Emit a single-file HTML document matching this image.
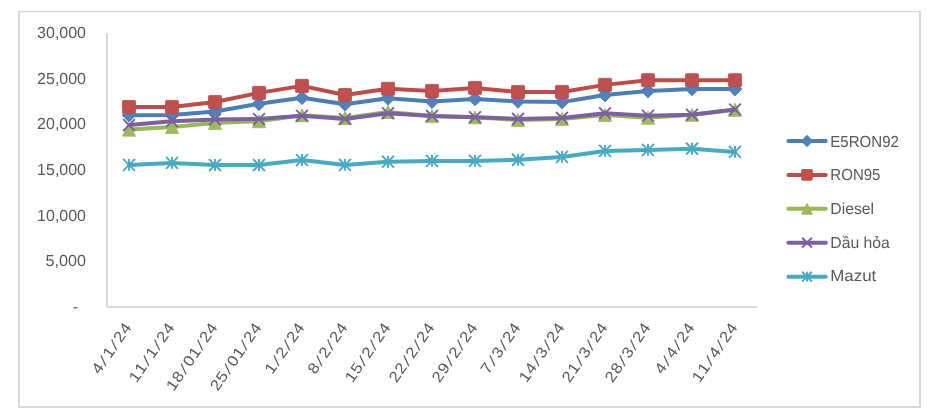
<!DOCTYPE html>
<html lang="vi"><head><meta charset="utf-8"><title>Chart</title>
<style>
html,body{margin:0;padding:0;background:#fff;}
body{width:934px;height:420px;overflow:hidden;}
svg{display:block;}
text{font-family:"Liberation Sans", sans-serif;fill:#595959;text-rendering:geometricPrecision;}
</style></head><body>
<svg width="934" height="420" viewBox="0 0 934 420">
<rect x="0" y="0" width="934" height="420" fill="#fff"/>
<g fill="#d9d9d9">
<rect x="18" y="11" width="903" height="1.2"/>
<rect x="18" y="406" width="903" height="2"/>
<rect x="18" y="11" width="2" height="397"/>
<rect x="919" y="11" width="2" height="397"/>
<rect x="106" y="33.0" width="2" height="273.8"/>
<rect x="107" y="306.0" width="650.0" height="2"/>
</g>

<text x="78" y="312.20" font-size="16" text-anchor="end">-</text>
<text x="86.0" y="266.43" font-size="16" text-anchor="end" textLength="40.4" lengthAdjust="spacingAndGlyphs">5,000</text>
<text x="86.0" y="220.77" font-size="16" text-anchor="end" textLength="48.9" lengthAdjust="spacingAndGlyphs">10,000</text>
<text x="86.0" y="175.10" font-size="16" text-anchor="end" textLength="48.9" lengthAdjust="spacingAndGlyphs">15,000</text>
<text x="86.0" y="129.43" font-size="16" text-anchor="end" textLength="48.9" lengthAdjust="spacingAndGlyphs">20,000</text>
<text x="86.0" y="83.77" font-size="16" text-anchor="end" textLength="48.9" lengthAdjust="spacingAndGlyphs">25,000</text>
<text x="86.0" y="38.10" font-size="16" text-anchor="end" textLength="48.9" lengthAdjust="spacingAndGlyphs">30,000</text>
<text transform="translate(132.20 327.20) rotate(-55.5) scale(1.12 1)" font-size="15.2" x="-51.86 -42.47 -34.81 -25.42 -17.75 -8.73" rotate="0 13 0 13 0 0">4/1/24</text>
<text transform="translate(175.20 327.20) rotate(-55.5) scale(1.12 1)" font-size="15.2" x="-60.88 -51.86 -42.47 -34.81 -25.42 -17.75 -8.73" rotate="0 0 13 0 13 0 0">11/1/24</text>
<text transform="translate(218.20 327.20) rotate(-55.5) scale(1.12 1)" font-size="15.2" x="-69.90 -60.88 -51.49 -43.82 -34.81 -25.42 -17.75 -8.73" rotate="0 0 13 0 0 13 0 0">18/01/24</text>
<text transform="translate(262.20 327.20) rotate(-55.5) scale(1.12 1)" font-size="15.2" x="-69.90 -60.88 -51.49 -43.82 -34.81 -25.42 -17.75 -8.73" rotate="0 0 13 0 0 13 0 0">25/01/24</text>
<text transform="translate(305.20 327.20) rotate(-55.5) scale(1.12 1)" font-size="15.2" x="-51.86 -42.47 -34.81 -25.42 -17.75 -8.73" rotate="0 13 0 13 0 0">1/2/24</text>
<text transform="translate(348.20 327.20) rotate(-55.5) scale(1.12 1)" font-size="15.2" x="-51.86 -42.47 -34.81 -25.42 -17.75 -8.73" rotate="0 13 0 13 0 0">8/2/24</text>
<text transform="translate(391.20 327.20) rotate(-55.5) scale(1.12 1)" font-size="15.2" x="-60.88 -51.86 -42.47 -34.81 -25.42 -17.75 -8.73" rotate="0 0 13 0 13 0 0">15/2/24</text>
<text transform="translate(435.20 327.20) rotate(-55.5) scale(1.12 1)" font-size="15.2" x="-60.88 -51.86 -42.47 -34.81 -25.42 -17.75 -8.73" rotate="0 0 13 0 13 0 0">22/2/24</text>
<text transform="translate(478.20 327.20) rotate(-55.5) scale(1.12 1)" font-size="15.2" x="-60.88 -51.86 -42.47 -34.81 -25.42 -17.75 -8.73" rotate="0 0 13 0 13 0 0">29/2/24</text>
<text transform="translate(521.20 327.20) rotate(-55.5) scale(1.12 1)" font-size="15.2" x="-51.86 -42.47 -34.81 -25.42 -17.75 -8.73" rotate="0 13 0 13 0 0">7/3/24</text>
<text transform="translate(565.20 327.20) rotate(-55.5) scale(1.12 1)" font-size="15.2" x="-60.88 -51.86 -42.47 -34.81 -25.42 -17.75 -8.73" rotate="0 0 13 0 13 0 0">14/3/24</text>
<text transform="translate(608.20 327.20) rotate(-55.5) scale(1.12 1)" font-size="15.2" x="-60.88 -51.86 -42.47 -34.81 -25.42 -17.75 -8.73" rotate="0 0 13 0 13 0 0">21/3/24</text>
<text transform="translate(651.20 327.20) rotate(-55.5) scale(1.12 1)" font-size="15.2" x="-60.88 -51.86 -42.47 -34.81 -25.42 -17.75 -8.73" rotate="0 0 13 0 13 0 0">28/3/24</text>
<text transform="translate(695.20 327.20) rotate(-55.5) scale(1.12 1)" font-size="15.2" x="-51.86 -42.47 -34.81 -25.42 -17.75 -8.73" rotate="0 13 0 13 0 0">4/4/24</text>
<text transform="translate(738.20 327.20) rotate(-55.5) scale(1.12 1)" font-size="15.2" x="-60.88 -51.86 -42.47 -34.81 -25.42 -17.75 -8.73" rotate="0 0 13 0 13 0 0">11/4/24</text>
<polyline points="129.00,115.20 172.00,114.90 215.00,111.50 259.00,103.80 302.00,97.70 345.00,104.20 388.00,98.30 432.00,101.60 475.00,98.90 518.00,101.40 562.00,102.10 605.00,95.00 648.00,91.00 692.00,88.90 735.00,89.10" fill="none" stroke="#4a7ebb" stroke-width="4" stroke-linejoin="round" stroke-linecap="round"/>
<path d="M129.00 108.26L135.94 115.20L129.00 122.14L122.06 115.20Z" fill="#4f81bd" stroke="#4a7ebb" stroke-width="0.8"/>
<path d="M172.00 107.96L178.94 114.90L172.00 121.84L165.06 114.90Z" fill="#4f81bd" stroke="#4a7ebb" stroke-width="0.8"/>
<path d="M215.00 104.56L221.94 111.50L215.00 118.44L208.06 111.50Z" fill="#4f81bd" stroke="#4a7ebb" stroke-width="0.8"/>
<path d="M259.00 96.86L265.94 103.80L259.00 110.74L252.06 103.80Z" fill="#4f81bd" stroke="#4a7ebb" stroke-width="0.8"/>
<path d="M302.00 90.76L308.94 97.70L302.00 104.64L295.06 97.70Z" fill="#4f81bd" stroke="#4a7ebb" stroke-width="0.8"/>
<path d="M345.00 97.26L351.94 104.20L345.00 111.14L338.06 104.20Z" fill="#4f81bd" stroke="#4a7ebb" stroke-width="0.8"/>
<path d="M388.00 91.36L394.94 98.30L388.00 105.24L381.06 98.30Z" fill="#4f81bd" stroke="#4a7ebb" stroke-width="0.8"/>
<path d="M432.00 94.66L438.94 101.60L432.00 108.54L425.06 101.60Z" fill="#4f81bd" stroke="#4a7ebb" stroke-width="0.8"/>
<path d="M475.00 91.96L481.94 98.90L475.00 105.84L468.06 98.90Z" fill="#4f81bd" stroke="#4a7ebb" stroke-width="0.8"/>
<path d="M518.00 94.46L524.94 101.40L518.00 108.34L511.06 101.40Z" fill="#4f81bd" stroke="#4a7ebb" stroke-width="0.8"/>
<path d="M562.00 95.16L568.94 102.10L562.00 109.04L555.06 102.10Z" fill="#4f81bd" stroke="#4a7ebb" stroke-width="0.8"/>
<path d="M605.00 88.06L611.94 95.00L605.00 101.94L598.06 95.00Z" fill="#4f81bd" stroke="#4a7ebb" stroke-width="0.8"/>
<path d="M648.00 84.06L654.94 91.00L648.00 97.94L641.06 91.00Z" fill="#4f81bd" stroke="#4a7ebb" stroke-width="0.8"/>
<path d="M692.00 81.96L698.94 88.90L692.00 95.84L685.06 88.90Z" fill="#4f81bd" stroke="#4a7ebb" stroke-width="0.8"/>
<path d="M735.00 82.16L741.94 89.10L735.00 96.04L728.06 89.10Z" fill="#4f81bd" stroke="#4a7ebb" stroke-width="0.8"/>
<polyline points="129.00,107.00 172.00,107.00 215.00,102.05 259.00,92.90 302.00,85.90 345.00,95.05 388.00,88.79 432.00,90.96 475.00,87.96 518.00,91.96 562.00,91.96 605.00,84.87 648.00,80.20 692.00,80.20 735.00,80.20" fill="none" stroke="#be4b48" stroke-width="4" stroke-linejoin="round" stroke-linecap="round"/>
<rect x="122.45" y="100.45" width="13.10" height="13.10" rx="1" fill="#c0504d" stroke="#be4b48" stroke-width="0.8"/>
<rect x="165.45" y="100.45" width="13.10" height="13.10" rx="1" fill="#c0504d" stroke="#be4b48" stroke-width="0.8"/>
<rect x="208.45" y="95.50" width="13.10" height="13.10" rx="1" fill="#c0504d" stroke="#be4b48" stroke-width="0.8"/>
<rect x="252.45" y="86.35" width="13.10" height="13.10" rx="1" fill="#c0504d" stroke="#be4b48" stroke-width="0.8"/>
<rect x="295.45" y="79.35" width="13.10" height="13.10" rx="1" fill="#c0504d" stroke="#be4b48" stroke-width="0.8"/>
<rect x="338.45" y="88.50" width="13.10" height="13.10" rx="1" fill="#c0504d" stroke="#be4b48" stroke-width="0.8"/>
<rect x="381.45" y="82.24" width="13.10" height="13.10" rx="1" fill="#c0504d" stroke="#be4b48" stroke-width="0.8"/>
<rect x="425.45" y="84.41" width="13.10" height="13.10" rx="1" fill="#c0504d" stroke="#be4b48" stroke-width="0.8"/>
<rect x="468.45" y="81.41" width="13.10" height="13.10" rx="1" fill="#c0504d" stroke="#be4b48" stroke-width="0.8"/>
<rect x="511.45" y="85.41" width="13.10" height="13.10" rx="1" fill="#c0504d" stroke="#be4b48" stroke-width="0.8"/>
<rect x="555.45" y="85.41" width="13.10" height="13.10" rx="1" fill="#c0504d" stroke="#be4b48" stroke-width="0.8"/>
<rect x="598.45" y="78.32" width="13.10" height="13.10" rx="1" fill="#c0504d" stroke="#be4b48" stroke-width="0.8"/>
<rect x="641.45" y="73.65" width="13.10" height="13.10" rx="1" fill="#c0504d" stroke="#be4b48" stroke-width="0.8"/>
<rect x="685.45" y="73.65" width="13.10" height="13.10" rx="1" fill="#c0504d" stroke="#be4b48" stroke-width="0.8"/>
<rect x="728.45" y="73.65" width="13.10" height="13.10" rx="1" fill="#c0504d" stroke="#be4b48" stroke-width="0.8"/>
<polyline points="129.00,129.60 172.00,126.90 215.00,123.00 259.00,121.20 302.00,115.20 345.00,117.90 388.00,111.90 432.00,116.00 475.00,117.30 518.00,119.90 562.00,119.00 605.00,115.00 648.00,117.70 692.00,114.80 735.00,109.80" fill="none" stroke="#98b954" stroke-width="4" stroke-linejoin="round" stroke-linecap="round"/>
<path d="M129.00 123.05L135.55 136.15L122.45 136.15Z" fill="#9bbb59" stroke="#98b954" stroke-width="0.8"/>
<path d="M172.00 120.35L178.55 133.45L165.45 133.45Z" fill="#9bbb59" stroke="#98b954" stroke-width="0.8"/>
<path d="M215.00 116.45L221.55 129.55L208.45 129.55Z" fill="#9bbb59" stroke="#98b954" stroke-width="0.8"/>
<path d="M259.00 114.65L265.55 127.75L252.45 127.75Z" fill="#9bbb59" stroke="#98b954" stroke-width="0.8"/>
<path d="M302.00 108.65L308.55 121.75L295.45 121.75Z" fill="#9bbb59" stroke="#98b954" stroke-width="0.8"/>
<path d="M345.00 111.35L351.55 124.45L338.45 124.45Z" fill="#9bbb59" stroke="#98b954" stroke-width="0.8"/>
<path d="M388.00 105.35L394.55 118.45L381.45 118.45Z" fill="#9bbb59" stroke="#98b954" stroke-width="0.8"/>
<path d="M432.00 109.45L438.55 122.55L425.45 122.55Z" fill="#9bbb59" stroke="#98b954" stroke-width="0.8"/>
<path d="M475.00 110.75L481.55 123.85L468.45 123.85Z" fill="#9bbb59" stroke="#98b954" stroke-width="0.8"/>
<path d="M518.00 113.35L524.55 126.45L511.45 126.45Z" fill="#9bbb59" stroke="#98b954" stroke-width="0.8"/>
<path d="M562.00 112.45L568.55 125.55L555.45 125.55Z" fill="#9bbb59" stroke="#98b954" stroke-width="0.8"/>
<path d="M605.00 108.45L611.55 121.55L598.45 121.55Z" fill="#9bbb59" stroke="#98b954" stroke-width="0.8"/>
<path d="M648.00 111.15L654.55 124.25L641.45 124.25Z" fill="#9bbb59" stroke="#98b954" stroke-width="0.8"/>
<path d="M692.00 108.25L698.55 121.35L685.45 121.35Z" fill="#9bbb59" stroke="#98b954" stroke-width="0.8"/>
<path d="M735.00 103.25L741.55 116.35L728.45 116.35Z" fill="#9bbb59" stroke="#98b954" stroke-width="0.8"/>
<polyline points="129.00,125.10 172.00,121.30 215.00,119.40 259.00,119.10 302.00,115.70 345.00,119.00 388.00,113.20 432.00,115.90 475.00,117.20 518.00,118.90 562.00,117.90 605.00,113.20 648.00,115.80 692.00,114.70 735.00,109.50" fill="none" stroke="#7d60a0" stroke-width="4" stroke-linejoin="round" stroke-linecap="round"/>
<path d="M123.11 119.20L134.90 131.00M134.90 119.20L123.11 131.00" fill="none" stroke="#7d60a0" stroke-width="1.9"/>
<path d="M166.10 115.41L177.90 127.19M177.90 115.41L166.10 127.19" fill="none" stroke="#7d60a0" stroke-width="1.9"/>
<path d="M209.10 113.51L220.90 125.30M220.90 113.51L209.10 125.30" fill="none" stroke="#7d60a0" stroke-width="1.9"/>
<path d="M253.10 113.20L264.89 124.99M264.89 113.20L253.10 124.99" fill="none" stroke="#7d60a0" stroke-width="1.9"/>
<path d="M296.11 109.81L307.89 121.59M307.89 109.81L296.11 121.59" fill="none" stroke="#7d60a0" stroke-width="1.9"/>
<path d="M339.11 113.11L350.89 124.89M350.89 113.11L339.11 124.89" fill="none" stroke="#7d60a0" stroke-width="1.9"/>
<path d="M382.11 107.31L393.89 119.09M393.89 107.31L382.11 119.09" fill="none" stroke="#7d60a0" stroke-width="1.9"/>
<path d="M426.11 110.01L437.89 121.80M437.89 110.01L426.11 121.80" fill="none" stroke="#7d60a0" stroke-width="1.9"/>
<path d="M469.11 111.31L480.89 123.09M480.89 111.31L469.11 123.09" fill="none" stroke="#7d60a0" stroke-width="1.9"/>
<path d="M512.11 113.01L523.89 124.80M523.89 113.01L512.11 124.80" fill="none" stroke="#7d60a0" stroke-width="1.9"/>
<path d="M556.11 112.01L567.89 123.80M567.89 112.01L556.11 123.80" fill="none" stroke="#7d60a0" stroke-width="1.9"/>
<path d="M599.11 107.31L610.89 119.09M610.89 107.31L599.11 119.09" fill="none" stroke="#7d60a0" stroke-width="1.9"/>
<path d="M642.11 109.91L653.89 121.69M653.89 109.91L642.11 121.69" fill="none" stroke="#7d60a0" stroke-width="1.9"/>
<path d="M686.11 108.81L697.89 120.59M697.89 108.81L686.11 120.59" fill="none" stroke="#7d60a0" stroke-width="1.9"/>
<path d="M729.11 103.61L740.89 115.39M740.89 103.61L729.11 115.39" fill="none" stroke="#7d60a0" stroke-width="1.9"/>
<polyline points="129.00,164.90 172.00,162.90 215.00,165.08 259.00,165.08 302.00,160.07 345.00,164.90 388.00,161.70 432.00,160.90 475.00,160.90 518.00,159.75 562.00,156.90 605.00,150.90 648.00,149.90 692.00,148.70 735.00,151.90" fill="none" stroke="#46aac5" stroke-width="4" stroke-linejoin="round" stroke-linecap="round"/>
<path d="M123.04 158.94L134.96 170.86M134.96 158.94L123.04 170.86M129.00 158.94L129.00 170.86" fill="none" stroke="#46aac5" stroke-width="1.9"/>
<path d="M166.04 156.94L177.96 168.86M177.96 156.94L166.04 168.86M172.00 156.94L172.00 168.86" fill="none" stroke="#46aac5" stroke-width="1.9"/>
<path d="M209.04 159.12L220.96 171.04M220.96 159.12L209.04 171.04M215.00 159.12L215.00 171.04" fill="none" stroke="#46aac5" stroke-width="1.9"/>
<path d="M253.04 159.12L264.96 171.04M264.96 159.12L253.04 171.04M259.00 159.12L259.00 171.04" fill="none" stroke="#46aac5" stroke-width="1.9"/>
<path d="M296.04 154.11L307.96 166.03M307.96 154.11L296.04 166.03M302.00 154.11L302.00 166.03" fill="none" stroke="#46aac5" stroke-width="1.9"/>
<path d="M339.04 158.94L350.96 170.86M350.96 158.94L339.04 170.86M345.00 158.94L345.00 170.86" fill="none" stroke="#46aac5" stroke-width="1.9"/>
<path d="M382.04 155.74L393.96 167.66M393.96 155.74L382.04 167.66M388.00 155.74L388.00 167.66" fill="none" stroke="#46aac5" stroke-width="1.9"/>
<path d="M426.04 154.94L437.96 166.86M437.96 154.94L426.04 166.86M432.00 154.94L432.00 166.86" fill="none" stroke="#46aac5" stroke-width="1.9"/>
<path d="M469.04 154.94L480.96 166.86M480.96 154.94L469.04 166.86M475.00 154.94L475.00 166.86" fill="none" stroke="#46aac5" stroke-width="1.9"/>
<path d="M512.04 153.79L523.96 165.71M523.96 153.79L512.04 165.71M518.00 153.79L518.00 165.71" fill="none" stroke="#46aac5" stroke-width="1.9"/>
<path d="M556.04 150.94L567.96 162.86M567.96 150.94L556.04 162.86M562.00 150.94L562.00 162.86" fill="none" stroke="#46aac5" stroke-width="1.9"/>
<path d="M599.04 144.94L610.96 156.86M610.96 144.94L599.04 156.86M605.00 144.94L605.00 156.86" fill="none" stroke="#46aac5" stroke-width="1.9"/>
<path d="M642.04 143.94L653.96 155.86M653.96 143.94L642.04 155.86M648.00 143.94L648.00 155.86" fill="none" stroke="#46aac5" stroke-width="1.9"/>
<path d="M686.04 142.74L697.96 154.66M697.96 142.74L686.04 154.66M692.00 142.74L692.00 154.66" fill="none" stroke="#46aac5" stroke-width="1.9"/>
<path d="M729.04 145.94L740.96 157.86M740.96 145.94L729.04 157.86M735.00 145.94L735.00 157.86" fill="none" stroke="#46aac5" stroke-width="1.9"/>
<path d="M788.4 141.0H825.8" stroke="#4a7ebb" stroke-width="4" stroke-linecap="round" fill="none"/>
<path d="M807.00 135.28L812.72 141.00L807.00 146.72L801.28 141.00Z" fill="#4f81bd" stroke="#4a7ebb" stroke-width="0.8"/>
<text x="830.3" y="146.50" font-size="16" textLength="68.6" lengthAdjust="spacingAndGlyphs">E5RON92</text>
<path d="M788.4 174.9H825.8" stroke="#be4b48" stroke-width="4" stroke-linecap="round" fill="none"/>
<rect x="801.60" y="169.50" width="10.80" height="10.80" rx="1" fill="#c0504d" stroke="#be4b48" stroke-width="0.8"/>
<text x="830.3" y="179.80" font-size="16" textLength="50.2" lengthAdjust="spacingAndGlyphs">RON95</text>
<path d="M788.4 208.8H825.8" stroke="#98b954" stroke-width="4" stroke-linecap="round" fill="none"/>
<path d="M807.00 203.40L812.40 214.20L801.60 214.20Z" fill="#9bbb59" stroke="#98b954" stroke-width="0.8"/>
<text x="830.3" y="213.70" font-size="16" textLength="43.8" lengthAdjust="spacingAndGlyphs">Diesel</text>
<path d="M788.4 242.65H825.8" stroke="#7d60a0" stroke-width="4" stroke-linecap="round" fill="none"/>
<path d="M802.14 237.79L811.86 247.51M811.86 237.79L802.14 247.51" fill="none" stroke="#7d60a0" stroke-width="1.9"/>
<text x="830.3" y="247.55" font-size="16" textLength="59.6" lengthAdjust="spacingAndGlyphs">Dầu hỏa</text>
<path d="M788.4 276.65H825.8" stroke="#46aac5" stroke-width="4" stroke-linecap="round" fill="none"/>
<path d="M802.09 271.74L811.91 281.56M811.91 271.74L802.09 281.56M807.00 271.74L807.00 281.56" fill="none" stroke="#46aac5" stroke-width="1.9"/>
<text x="830.3" y="281.45" font-size="16" textLength="46.0" lengthAdjust="spacingAndGlyphs">Mazut</text>
</svg></body></html>
